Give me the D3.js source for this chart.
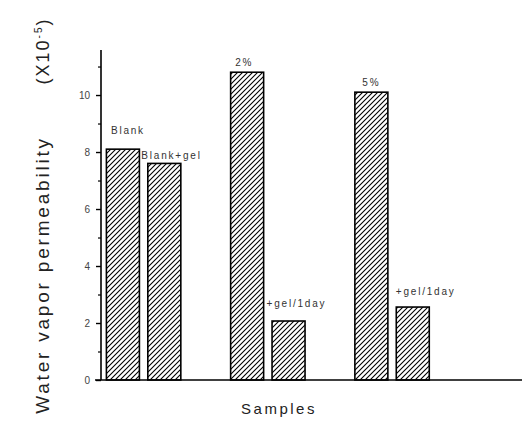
<!DOCTYPE html>
<html>
<head>
<meta charset="utf-8">
<script src="https://cdn.jsdelivr.net/npm/d3@7"></script>
<style>
body { margin: 0; background: #fff; }
text { font-family: "Liberation Sans", Arial, sans-serif; }
</style>
</head>
<body>
<svg width="522" height="421"></svg>
<script>
var samples = ["Blank", "Blank+gel", "2%", "+gel/1day", "5%", "+gel/1day"];
var slots = [1, 2, 4, 5, 7, 8];
var wvp = [8.1, 7.6, 10.8, 2.07, 10.1, 2.56];
var yTicks = [0, 2, 4, 6, 8, 10];

var svg = d3.select("svg");

var x = d3.scaleLinear().domain([0, 11]).range([81.5, 537]);
var y = d3.scaleLinear().domain([0, 11.58]).range([380, 50]);
var bw = 33;

// hatch
var pat = svg.append("defs").append("pattern")
    .attr("id", "hatch")
    .attr("patternUnits", "userSpaceOnUse")
    .attr("width", 5).attr("height", 5);
pat.append("rect").attr("width", 5).attr("height", 5).attr("fill", "#fff");
pat.append("path")
    .attr("d", "M-1,1 l2,-2 M0,5 l5,-5 M4,6 l2,-2")
    .attr("stroke", "#000").attr("stroke-width", 1.1);

svg.selectAll(".bar")
    .data(wvp)
    .enter().append("rect")
    .attr("class", "bar")
    .attr("x", function(d, i) { return x(slots[i]) - bw / 2; })
    .attr("y", function(d) { return y(d); })
    .attr("width", bw)
    .attr("height", function(d) { return y(0) - y(d); })
    .attr("fill", "url(#hatch)")
    .attr("stroke", "#000")
    .attr("stroke-width", 1.6);

// labels, placed like the original
var labelOffsets = [[-12, -15], [-23, -4], [-12, -6], [-22, -14], [-9, -6], [-17, -12]];
svg.selectAll(".lbl")
    .data(samples)
    .enter().append("text")
    .attr("class", "lbl")
    .attr("x", function(d, i) { return x(slots[i]) + labelOffsets[i][0]; })
    .attr("y", function(d, i) { return y(wvp[i]) + labelOffsets[i][1]; })
    .attr("font-size", 10)
    .attr("letter-spacing", 1.8)
    .attr("fill", "#333")
    .text(function(d) { return d; });

// y axis
var yAxis = d3.axisLeft(y).tickValues(yTicks).tickSize(5).tickPadding(6);
var gy = svg.append("g").attr("transform", "translate(101,0)").call(yAxis);
gy.select(".domain").attr("d", "M0,50V380").attr("stroke-width", 1.6);
gy.selectAll(".tick line").attr("stroke-width", 1.4);
gy.selectAll(".tick text").attr("font-size", 10).attr("fill", "#444")
    .attr("font-family", "Liberation Sans, Arial, sans-serif");
svg.append("g").attr("transform", "translate(101,0)")
    .call(d3.axisLeft(y).tickValues([1, 3, 5, 7, 9, 11]).tickSize(3).tickFormat(""))
    .call(function(g) { g.select(".domain").remove(); g.selectAll("line").attr("stroke-width", 1.2); });

// x axis
svg.append("line")
    .attr("x1", 95).attr("x2", 522)
    .attr("y1", y(0)).attr("y2", y(0))
    .attr("stroke", "#000").attr("stroke-width", 1.6);

svg.append("text")
    .attr("x", 279).attr("y", 414)
    .attr("text-anchor", "middle")
    .attr("font-size", 15)
    .attr("letter-spacing", 2.5)
    .attr("fill", "#222")
    .text("Samples");

svg.append("text")
    .attr("transform", "translate(49,275) rotate(-90)")
    .attr("text-anchor", "middle")
    .attr("font-size", 19)
    .attr("letter-spacing", 2.8)
    .attr("fill", "#222")
    .text("Water vapor permeability");

var unit = svg.append("text")
    .attr("transform", "translate(49,51) rotate(-90)")
    .attr("text-anchor", "middle")
    .attr("font-size", 18)
    .attr("letter-spacing", 2)
    .attr("fill", "#222");
unit.append("tspan").text("(X10");
unit.append("tspan").attr("dy", -7).attr("font-size", 10).text("-5");
unit.append("tspan").attr("dy", 7).text(")");
</script>
</body>
</html>
